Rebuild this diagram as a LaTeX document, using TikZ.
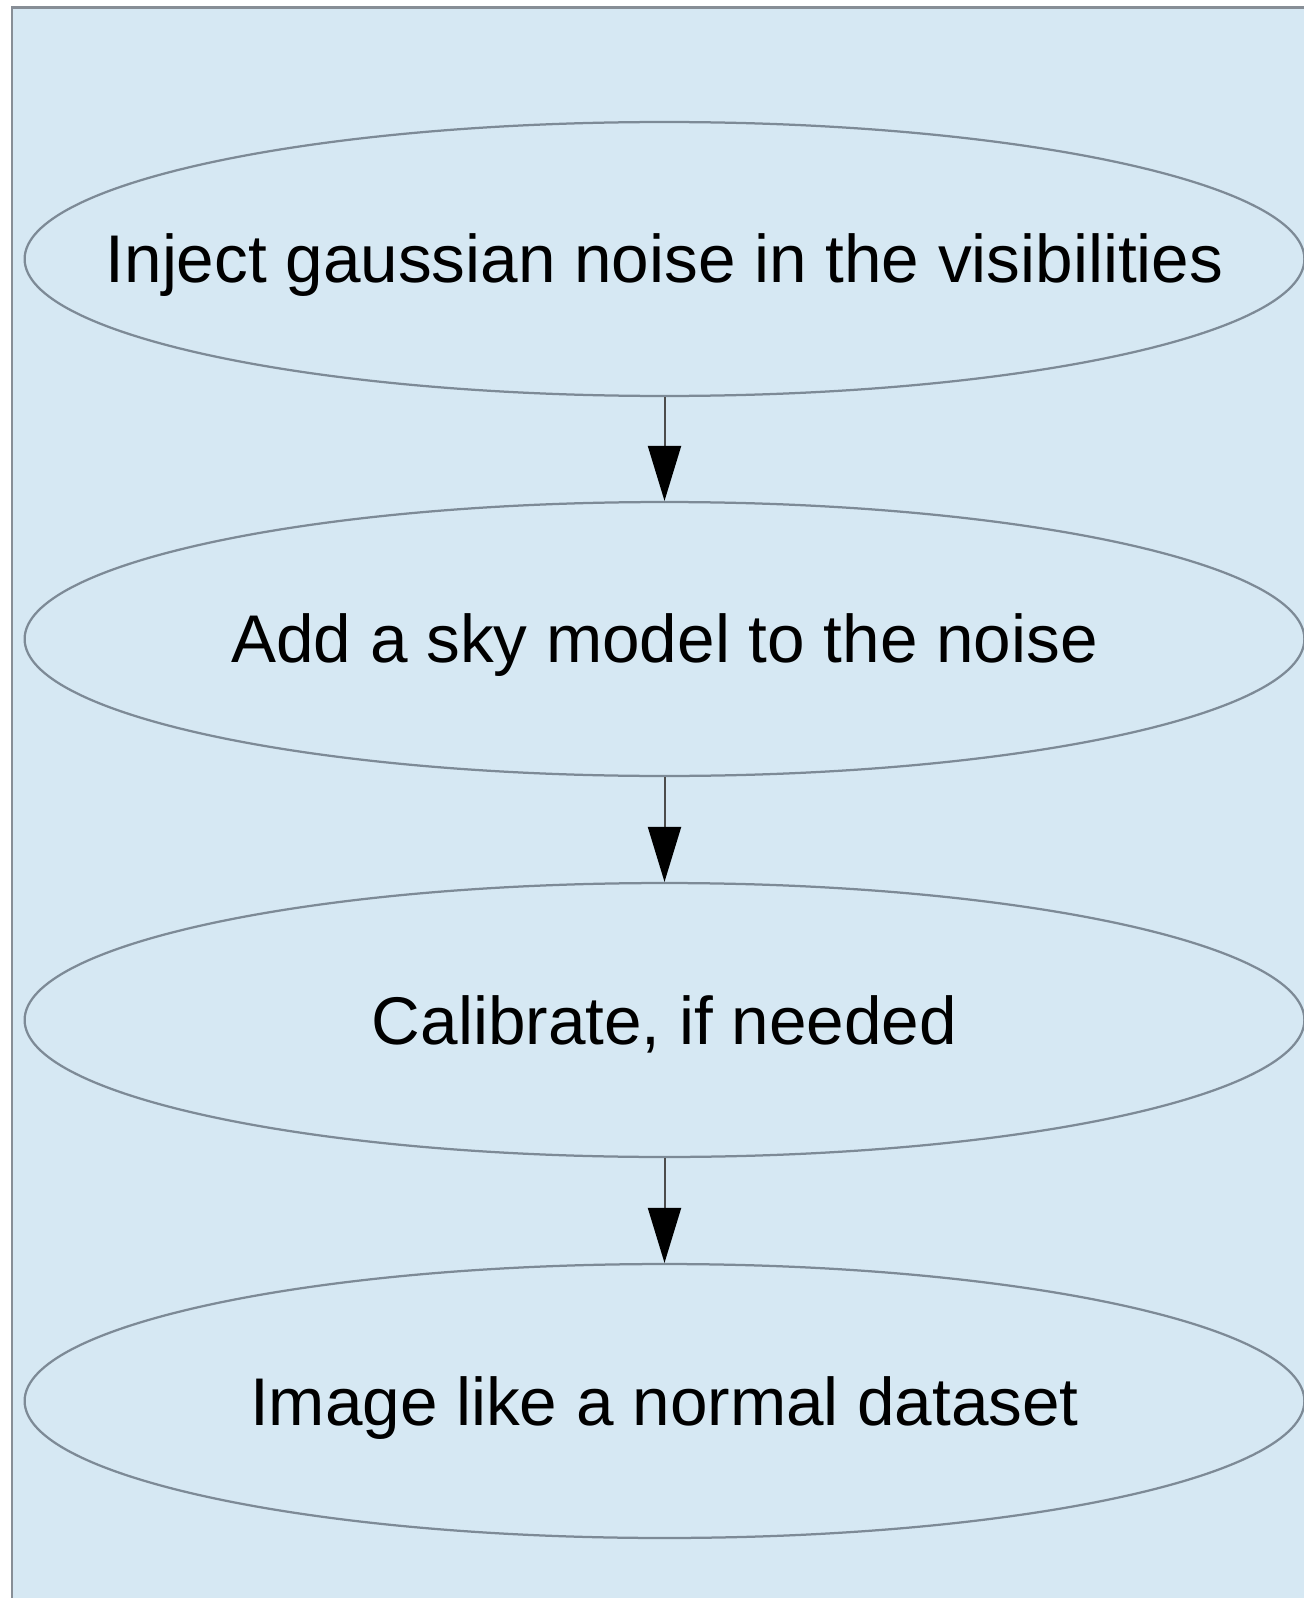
\documentclass[tikz,border=0pt]{standalone}
\usepackage{fontspec}
\setmainfont{Liberation Sans}
\usetikzlibrary{shapes.geometric,arrows.meta}
\definecolor{panelblue}{RGB}{214,232,243}
\definecolor{edgegray}{RGB}{125,138,150}
\definecolor{framegray}{RGB}{135,142,150}
\tikzset{procstyle/.style={ellipse,draw=edgegray,line width=0.045cm,
        minimum width=25.6cm,minimum height=5.48cm,inner sep=0pt,
        font=\fontsize{38.4}{42}\selectfont}}
\tikzset{flowarrow/.style={draw=black!70,line width=0.04cm,
        -{Triangle[width=0.66cm,length=1.1cm,color=black]}}}
% zero-size label so every ellipse keeps the same size
\newcommand{\steplabel}[1]{\raisebox{-0.48cm}[0pt][0pt]{\makebox[0pt]{#1}}}

\begin{document}
\begin{tikzpicture}[x=0.02cm,y=-0.02cm]
    \useasboundingbox (0,0) rectangle (1304,1598);
    \clip (0,0) rectangle (1304,1598);
    % panel behind the flow
    \fill[white] (0,0) rectangle (1304,1598);
    \fill[panelblue] (12,8) rectangle (1330,1630);
    \draw[framegray,line width=0.06cm] (12,1630) -- (12,8) -- (1330,8);
    % steps
    \node[procstyle] (inject) at (664.5,259) {\steplabel{Inject gaussian noise in the visibilities}};
    \node[procstyle] (sky) at (664.5,639) {\steplabel{Add a sky model to the noise}};
    \node[procstyle] (calib) at (664.5,1020) {\steplabel{Calibrate, if needed}};
    \node[procstyle] (image) at (664.5,1401) {\steplabel{Image like a normal dataset}};
    % arrows
    \draw[flowarrow] (inject) -- (sky);
    \draw[flowarrow] (sky) -- (calib);
    \draw[flowarrow] (calib) -- (image);
\end{tikzpicture}
\end{document}
